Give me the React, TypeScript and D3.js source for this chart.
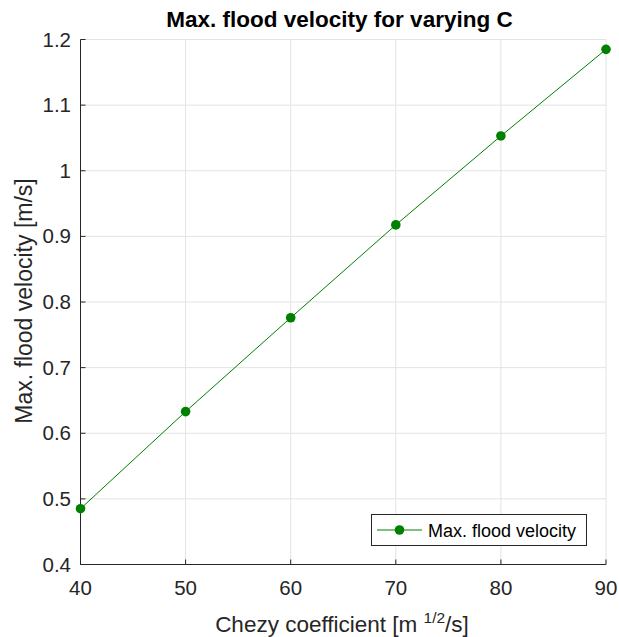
import React from "react";
import * as d3 from "d3";

const chezy = [40, 50, 60, 70, 80, 90];
const velocity = [0.485, 0.633, 0.776, 0.9175, 1.053, 1.185];
const xTicks = [40, 50, 60, 70, 80, 90];
const yTicks = [0.4, 0.5, 0.6, 0.7, 0.8, 0.9, 1.0, 1.1, 1.2];

const W = 619, H = 637;
const left = 80.5, right = 606, top = 39.5, bottom = 564.5;
const green = "#008000";
const axisColor = "#262626";
const font = "'Liberation Sans', Arial, Helvetica, sans-serif";

export default function App() {
  const x = d3.scaleLinear().domain([40, 90]).range([left, right]);
  const y = d3.scaleLinear().domain([0.4, 1.2]).range([bottom, top]);
  const line = d3.line<number>().x((_, i) => x(chezy[i])).y((d) => y(d));
  const fmt = (v: number) => (Math.abs(v - 1) < 1e-9 ? "1" : d3.format(".1f")(v));
  return (
    <svg width={W} height={H} style={{ position: "absolute", left: 0, top: 0, background: "#fff" }} fontFamily={font}>
      <rect width={W} height={H} fill="#fff" />
      {xTicks.map((t) => (
        <line key={"gx" + t} x1={x(t)} x2={x(t)} y1={top} y2={bottom} stroke="#e3e3e3" strokeWidth={1} />
      ))}
      {yTicks.map((t) => (
        <line key={"gy" + t} x1={left} x2={right} y1={y(t)} y2={y(t)} stroke="#e3e3e3" strokeWidth={1} />
      ))}
      <line x1={left} x2={left} y1={top} y2={bottom} stroke={axisColor} strokeWidth={1} />
      <line x1={left} x2={right} y1={bottom} y2={bottom} stroke={axisColor} strokeWidth={1} />
      {xTicks.map((t) => (
        <g key={"tx" + t}>
          <line x1={x(t)} x2={x(t)} y1={bottom} y2={bottom - 5} stroke={axisColor} />
          <text x={x(t)} y={595} textAnchor="middle" fontSize={20.5} fill={axisColor}>{t}</text>
        </g>
      ))}
      {yTicks.map((t) => (
        <g key={"ty" + t}>
          <line x1={left} x2={left + 5} y1={y(t)} y2={y(t)} stroke={axisColor} />
          <text x={71} y={y(t) + 7} textAnchor="end" fontSize={20.5} fill={axisColor}>{fmt(t)}</text>
        </g>
      ))}
      <path d={line(velocity) || ""} fill="none" stroke={green} strokeWidth={1} />
      {velocity.map((v, i) => (
        <circle key={i} cx={x(chezy[i])} cy={y(v)} r={4.8} fill={green} />
      ))}
      <text x={339.5} y={27} textAnchor="middle" fontSize={22.5} fontWeight="bold" fill="#000">Max. flood velocity for varying C</text>
      <text x={342} y={632} textAnchor="middle" fontSize={22.5} fill={axisColor}>
        Chezy coefficient [m <tspan fontSize={15.5} dy={-9}>1/2</tspan><tspan dy={9}>/s]</tspan>
      </text>
      <text transform={`translate(32, ${(top + bottom) / 2 - 1}) rotate(-90)`} textAnchor="middle" fontSize={23} fill={axisColor}>
        Max. flood velocity [m/s]
      </text>
      <g>
        <rect x={371.5} y={514.5} width={215} height={31} fill="#fff" stroke={axisColor} strokeWidth={1} />
        <line x1={377} x2={422} y1={530} y2={530} stroke={green} strokeWidth={1} />
        <circle cx={399.5} cy={530} r={4.8} fill={green} />
        <text x={428} y={536.5} fontSize={18} fill="#000">Max. flood velocity</text>
      </g>
    </svg>
  );
}
